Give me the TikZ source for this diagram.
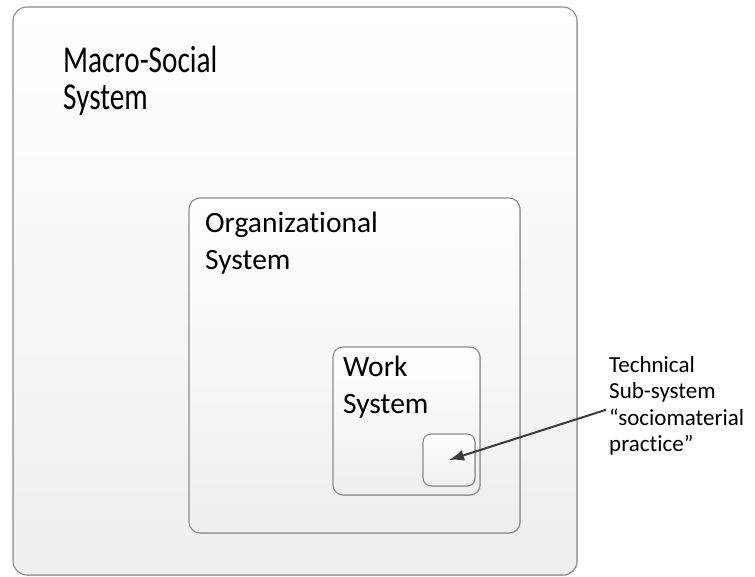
\documentclass[tikz,border=0pt]{standalone}
\usepackage{fontspec}
\setmainfont[Ligatures=NoCommon]{Carlito}
\newfontfamily\tallfont[FakeStretch=0.77,Ligatures=NoCommon]{Carlito}
\usetikzlibrary{shadows,arrows.meta}
\definecolor{edgegray}{HTML}{8C8C8C}
\definecolor{arrowgray}{HTML}{3C3C3C}
\definecolor{fillbottom}{HTML}{EEEEEE}
\tikzset{
  sysbox/.style={draw=edgegray, line width=1.1pt, top color=white, bottom color=fillbottom,
    drop shadow={shadow xshift=0.8pt, shadow yshift=-0.8pt, opacity=0.35, fill=black!60},
    inner sep=0pt},
  bigtext/.style={anchor=north west, inner sep=0pt, align=left, text=black},
  smalltext/.style={anchor=north west, inner sep=0pt, align=left, text=black,
    font=\fontsize{23}{26.5}\selectfont},
  pointer/.style={draw=arrowgray, line width=2pt, -{Latex[length=15pt,width=11pt]}}
}
\begin{document}
\begin{tikzpicture}[x=1pt,y=-1pt]
\useasboundingbox[fill=white] (0,0) rectangle (755,576);
\node[sysbox, rounded corners=14pt, minimum width=564pt, minimum height=568pt] (macro) at (295,291) {};
\node[sysbox, rounded corners=11pt, minimum width=331pt, minimum height=335pt] (org) at (354.5,365.5) {};
\node[sysbox, rounded corners=10pt, minimum width=147pt, minimum height=148pt] (work) at (406.5,421) {};
\node[sysbox, rounded corners=8pt, minimum width=52pt, minimum height=52pt] (tech) at (449,460) {};
\node[bigtext, font=\tallfont\fontsize{38}{37}\selectfont] (macrolabel) at (63,46) {Macro-Social\\System};
\node[bigtext, font=\fontsize{29.5}{37}\selectfont] (orglabel) at (205,212) {Organizational\\System};
\node[bigtext, font=\fontsize{29.5}{37}\selectfont] (worklabel) at (343,356) {Work\\System};
\node[smalltext] (techlabel) at (609,356) {Technical\\Sub-system\\“sociomaterial\\practice”};
\draw[pointer] ([xshift=-3pt,yshift=-4pt]techlabel.west) -- (tech.center);
\end{tikzpicture}
\end{document}
